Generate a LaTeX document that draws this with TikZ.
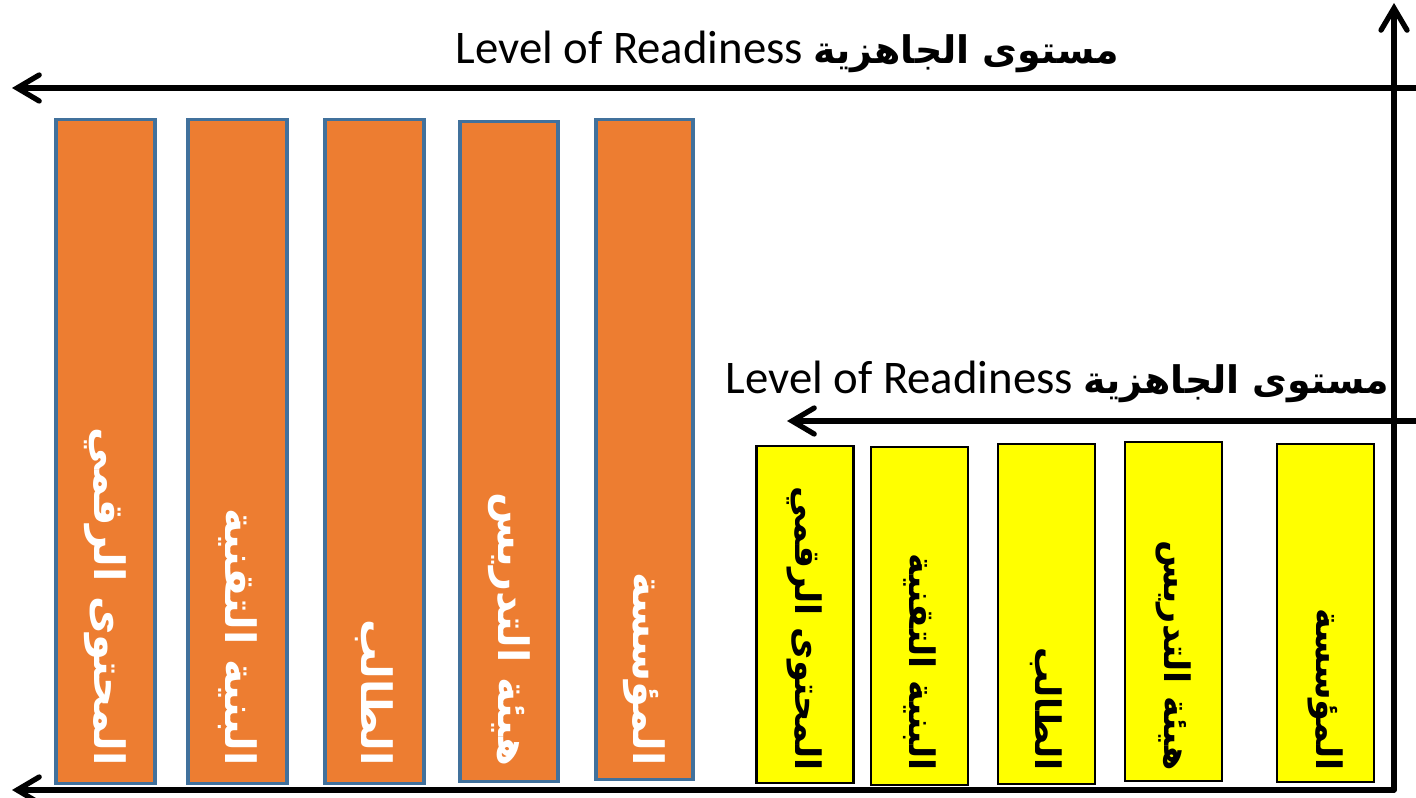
\documentclass[tikz,border=0pt]{standalone}
\usepackage{fontspec}
\setmainfont{Carlito}
\newfontfamily\arabicfont[Script=Arabic]{DejaVu Sans}
\TeXXeTstate=1
\usepackage{xcolor}
\usepackage{tikz}
\usetikzlibrary{arrows.meta, positioning}
\definecolor{barorange}{HTML}{ED7D31}
\definecolor{barblue}{HTML}{41719C}
\definecolor{baryellow}{HTML}{FFFF00}
\tikzset{
    x=0.01cm, y=-0.01cm,                        % one unit is one pixel of the sketch
    axis/.style={line width=1.5pt, line cap=round,
        -{Straight Barb[length=2.2mm, width=2.6mm, line cap=round]}},   % open arrow heads
    obar/.style={draw=barblue, fill=barorange, line width=0.9pt, minimum width=0.99cm, inner sep=0pt},
    ybar/.style={draw=black, fill=baryellow, line width=0.7pt, minimum width=0.97cm, inner sep=0pt},
    olabel/.style={rotate=-90, anchor=east, inner sep=0pt, text=white,
        font=\fontsize{11.9}{14}\selectfont},
    ylabel/.style={rotate=-90, anchor=east, inner sep=0pt, text=black,
        font=\fontsize{10}{12}\selectfont},
    heading/.style={inner sep=0pt, font=\fontsize{13.3}{16}\selectfont},
}
\newcommand{\ar}[1]{{\arabicfont\bfseries\beginR #1\endR}}
\newcommand{\arhead}[1]{{\arabicfont\bfseries\fontsize{10.8}{14}\selectfont\beginR #1\endR}}

\begin{document}
\begin{tikzpicture}

\useasboundingbox (0,0) rectangle (1416,798);

% axes
\coordinate (origin) at (1394,790);
\coordinate (ytop) at (1394,3);
\coordinate (xend) at (12,790);
\coordinate (a1r) at (1416,88);
\coordinate (a1l) at (12,88);
\coordinate (a2r) at (1416,421);
\coordinate (a2l) at (787,421);

\draw[axis] (origin) -- (ytop);
\draw[axis] (origin) -- (xend);
\draw[axis] (a1r) -- (a1l);
\draw[axis] (a2r) -- (a2l);

% headings
\node[heading, anchor=east] (h1) at (1120,52) {Level of Readiness \arhead{مستوى الجاهزية}};
\node[heading, anchor=east] (h2) at (1390,382) {Level of Readiness \arhead{مستوى الجاهزية}};

% orange bars
\node[obar, minimum height=6.63cm] (ob1) at (105.5,451.5) {};
\node[obar, minimum height=6.63cm] (ob2) at (237.5,451.5) {};
\node[obar, minimum height=6.63cm] (ob3) at (374.5,451.5) {};
\node[obar, minimum height=6.59cm, minimum width=0.98cm] (ob4) at (509,451.5) {};
\node[obar, minimum height=6.59cm, minimum width=0.97cm] (ob5) at (644.5,449.5) {};

\node[olabel] (ot1) at ([yshift=0.18cm]ob1.south) {\ar{المحتوى الرقمي}};
\node[olabel] (ot2) at ([yshift=0.18cm]ob2.south) {\ar{البنية التقنية}};
\node[olabel] (ot3) at ([yshift=0.18cm]ob3.south) {\ar{الطالب}};
\node[olabel] (ot4) at ([yshift=0.16cm]ob4.south) {\ar{هيئة التدريس}};
\node[olabel] (ot5) at ([yshift=0.14cm]ob5.south) {\ar{المؤسسة}};

% yellow bars
\node[ybar, minimum height=3.37cm] (yb1) at (805,614.5) {};
\node[ybar, minimum height=3.38cm] (yb2) at (919.5,616) {};
\node[ybar, minimum height=3.40cm] (yb3) at (1046.5,614) {};
\node[ybar, minimum height=3.39cm] (yb4) at (1173.5,611.5) {};
\node[ybar, minimum height=3.38cm] (yb5) at (1325.5,613) {};

\node[ylabel] (yt1) at ([yshift=0.13cm]yb1.south) {\ar{المحتوى الرقمي}};
\node[ylabel] (yt2) at ([yshift=0.15cm]yb2.south) {\ar{البنية التقنية}};
\node[ylabel] (yt3) at ([yshift=0.14cm]yb3.south) {\ar{الطالب}};
\node[ylabel] (yt4) at ([yshift=0.11cm]yb4.south) {\ar{هيئة التدريس}};
\node[ylabel] (yt5) at ([yshift=0.12cm]yb5.south) {\ar{المؤسسة}};

\end{tikzpicture}
\end{document}
